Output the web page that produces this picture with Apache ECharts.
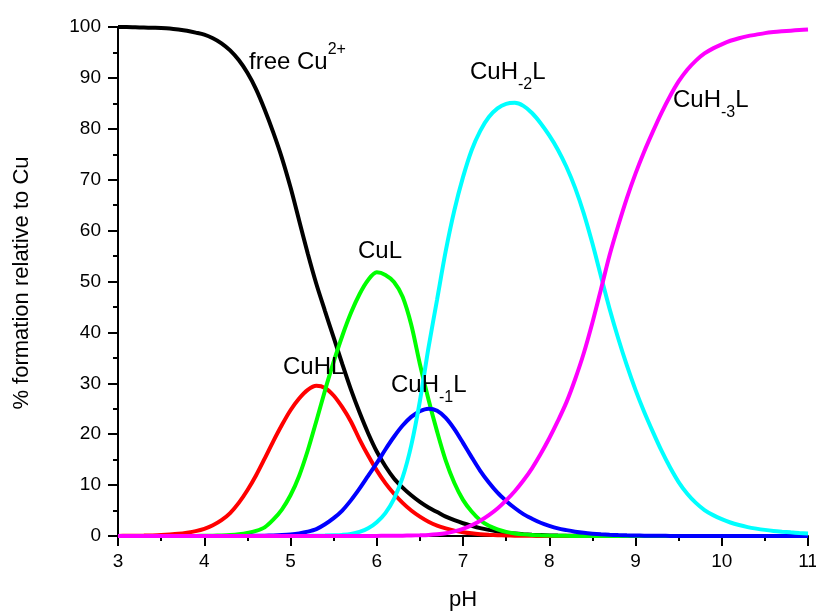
<!DOCTYPE html>
<html>
<head>
<meta charset="utf-8">
<script src="https://cdn.jsdelivr.net/npm/echarts@6/dist/echarts.min.js"></script>
<style>
html,body{margin:0;padding:0;background:#fff;overflow:hidden;}
#chart{width:816px;height:613px;}
</style>
</head>
<body>
<div id="chart"></div>
<script>
// ---- data ----
const pH = [3.0,3.1,3.2,3.3,3.4,3.5,3.6,3.7,3.8,3.9,
            4.0,4.1,4.2,4.3,4.4,4.5,4.6,4.7,4.8,4.9,
            5.0,5.1,5.2,5.3,5.4,5.5,5.6,5.7,5.8,5.9,
            6.0,6.1,6.2,6.3,6.4,6.5,6.6,6.7,6.8,6.9,
            7.0,7.1,7.2,7.3,7.4,7.5,7.6,7.7,7.8,7.9,
            8.0,8.1,8.2,8.3,8.4,8.5,8.6,8.7,8.8,8.9,
            9.0,9.1,9.2,9.3,9.4,9.5,9.6,9.7,9.8,9.9,
            10.0,10.1,10.2,10.3,10.4,10.5,10.6,10.7,10.8,10.9,11.0];

const freeCu = [100,100,99.95,99.9,99.85,99.8,99.7,99.5,99.25,98.9,
                98.5,97.8,96.8,95.4,93.5,91.0,87.8,83.8,79.3,74.3,
                68.5,62.0,55.5,49.5,44.2,39.0,33.8,28.8,24.3,20.2,
                16.6,13.7,11.3,9.5,8.0,6.7,5.6,4.7,3.8,3.1,
                2.5,2.0,1.55,1.2,0.9,0.65,0.48,0.35,0.25,0.18,
                0.12,0.08,0.05,0.03,0.02,0.01,0,0,0,0,
                0,0,0,0,0,0,0,0,0,0,
                0,0,0,0,0,0,0,0,0,0,0];

const CuHL = [0.02,0.03,0.05,0.08,0.12,0.18,0.28,0.42,0.65,0.95,
              1.4,2.1,3.1,4.5,6.5,9.0,11.9,15.2,18.6,21.8,
              24.7,27.0,28.7,29.5,29.1,27.6,25.3,22.5,19.0,15.8,
              12.9,10.4,8.3,6.5,5.0,3.8,2.8,2.05,1.5,1.05,
              0.75,0.52,0.36,0.25,0.17,0.11,0.07,0.05,0.03,0.02,
              0.01,0,0,0,0,0,0,0,0,0,
              0,0,0,0,0,0,0,0,0,0,
              0,0,0,0,0,0,0,0,0,0,0];

const CuL = [0,0,0,0,0,0,0,0,0.01,0.02,
             0.04,0.07,0.12,0.2,0.35,0.6,1.0,1.7,3.2,5.2,
             8.0,11.8,16.8,22.6,28.6,34.2,39.3,43.8,47.5,50.3,
             51.8,51.3,49.9,47.0,41.5,33.8,26.8,20.5,14.8,10.4,
             7.1,4.8,3.1,2.0,1.3,0.8,0.5,0.32,0.2,0.13,
             0.08,0.05,0.03,0.02,0.01,0,0,0,0,0,
             0,0,0,0,0,0,0,0,0,0,
             0,0,0,0,0,0,0,0,0,0,0];

const CuH_1L = [0,0,0,0,0,0,0,0,0,0,
                0,0,0,0,0,0.02,0.04,0.07,0.12,0.2,
                0.32,0.52,0.85,1.35,2.3,3.5,5.0,7.0,9.3,11.8,
                14.3,17.0,19.5,21.7,23.4,24.5,25.0,24.6,23.2,21.0,
                18.3,15.5,12.8,10.5,8.5,6.9,5.5,4.3,3.4,2.6,
                2.0,1.5,1.15,0.85,0.62,0.46,0.34,0.25,0.18,0.13,
                0.09,0.06,0.04,0.03,0.02,0.01,0,0,0,0,
                0,0,0,0,0,0,0,0,0,0,0];

const CuH_2L = [0,0,0,0,0,0,0,0,0,0,
                0,0,0,0,0,0,0,0,0,0,
                0.01,0.02,0.03,0.05,0.08,0.13,0.22,0.4,0.8,1.5,
                2.7,4.5,7.3,11.5,17.8,26.5,37.0,46.5,56.0,64.0,
                70.5,75.8,79.6,82.3,84.0,84.9,85.1,84.5,83.1,81.1,
                78.7,75.9,72.5,68.4,63.4,57.5,51.0,44.6,38.8,33.5,
                28.7,24.4,20.5,16.8,13.5,10.6,8.3,6.5,5.1,4.1,
                3.3,2.65,2.15,1.75,1.45,1.2,1.0,0.85,0.72,0.6,0.5];

const CuH_3L = [0,0,0,0,0,0,0,0,0,0,
                0,0,0,0,0,0,0,0,0,0,
                0,0,0,0,0,0,0,0,0,0,
                0.02,0.03,0.05,0.07,0.1,0.15,0.22,0.35,0.55,0.9,
                1.4,2.1,3.0,4.1,5.4,7.0,8.8,10.9,13.3,16.1,
                19.2,22.6,26.3,30.8,35.9,41.9,48.5,55.2,61.0,66.4,
                71.2,75.5,79.4,83.1,86.4,89.3,91.6,93.4,94.8,95.8,
                96.6,97.3,97.8,98.2,98.5,98.8,99.0,99.15,99.28,99.4,99.5];

const seriesNames = ['free Cu2+','CuHL','CuL','CuH-1L','CuH-2L','CuH-3L'];
const seriesValues = [freeCu, CuHL, CuL, CuH_1L, CuH_2L, CuH_3L];
const seriesColors = ['#000000','#ff0000','#00ff00','#0000ff','#00ffff','#ff00ff'];

const xTicks = [3,4,5,6,7,8,9,10,11];
const yTicks = [0,10,20,30,40,50,60,70,80,90,100];

// ---- chart ----
const FONT = '"Liberation Sans", Arial, Helvetica, sans-serif';
const chart = echarts.init(document.getElementById('chart'), null,
                           {renderer: 'canvas', width: 816, height: 613});

const rich = {
  m:   {fontSize: 24, fontFamily: FONT, color: '#000', lineHeight: 26},
  sub: {fontSize: 16, fontFamily: FONT, color: '#000', lineHeight: 16, padding: [26, 0, 0, 0]},
  sup: {fontSize: 16, fontFamily: FONT, color: '#000', lineHeight: 16, padding: [0, 0, 24, 0]}
};

function lbl(text, x, y) {
  return {
    type: 'text', x: x, y: y, z: 100,
    style: {text: text, rich: rich, align: 'left', verticalAlign: 'middle', fill: '#000'}
  };
}

const axisCommon = {
  axisLine: {show: true, onZero: false, lineStyle: {color: '#000', width: 2}},
  axisTick: {show: true, inside: false, length: 10, lineStyle: {color: '#000', width: 2}},
  minorTick: {show: true, splitNumber: 2, length: 5, lineStyle: {color: '#000', width: 2}},
  splitLine: {show: false},
  minorSplitLine: {show: false}
};

const option = {
  animation: false,
  backgroundColor: '#ffffff',
  grid: {left: 118, right: 8, top: 27, bottom: 77, containLabel: false, outerBoundsMode: 'none'},
  xAxis: Object.assign({
    type: 'value', min: xTicks[0], max: xTicks[xTicks.length - 1], interval: 1,
    axisLabel: {fontSize: 19, fontFamily: FONT, color: '#000', margin: 16,
                hideOverlap: false, formatter: v => String(v)}
  }, axisCommon),
  yAxis: Object.assign({
    type: 'value', min: yTicks[0], max: yTicks[yTicks.length - 1], interval: 10,
    axisLabel: {fontSize: 19, fontFamily: FONT, color: '#000', margin: 17,
                formatter: v => String(v)}
  }, axisCommon),
  series: seriesNames.map((name, i) => ({
    name: name,
    type: 'line',
    data: pH.map((x, k) => [x, seriesValues[i][k]]),
    showSymbol: false,
    smooth: 0.3,
    clip: true,
    lineStyle: {color: seriesColors[i], width: 4},
    itemStyle: {color: seriesColors[i]},
    z: 2 + i
  })),
  graphic: [
    lbl('{m|free Cu}{sup|2+}', 249, 62),
    lbl('{m|CuL}', 358, 251),
    lbl('{m|CuHL}', 283, 367),
    lbl('{m|CuH}{sub|-1}{m|L}', 391, 385),
    lbl('{m|CuH}{sub|-2}{m|L}', 470, 72),
    lbl('{m|CuH}{sub|-3}{m|L}', 673, 100),
    {
      type: 'text', x: 463, y: 600,
      style: {text: 'pH', font: '22px ' + FONT, fill: '#000', align: 'center', verticalAlign: 'middle'}
    },
    {
      type: 'text', x: 22, y: 283, rotation: Math.PI / 2,
      style: {text: '% formation relative to Cu', font: '22px ' + FONT, fill: '#000',
              align: 'center', verticalAlign: 'middle'}
    }
  ]
};
chart.setOption(option);
</script>
</body>
</html>
